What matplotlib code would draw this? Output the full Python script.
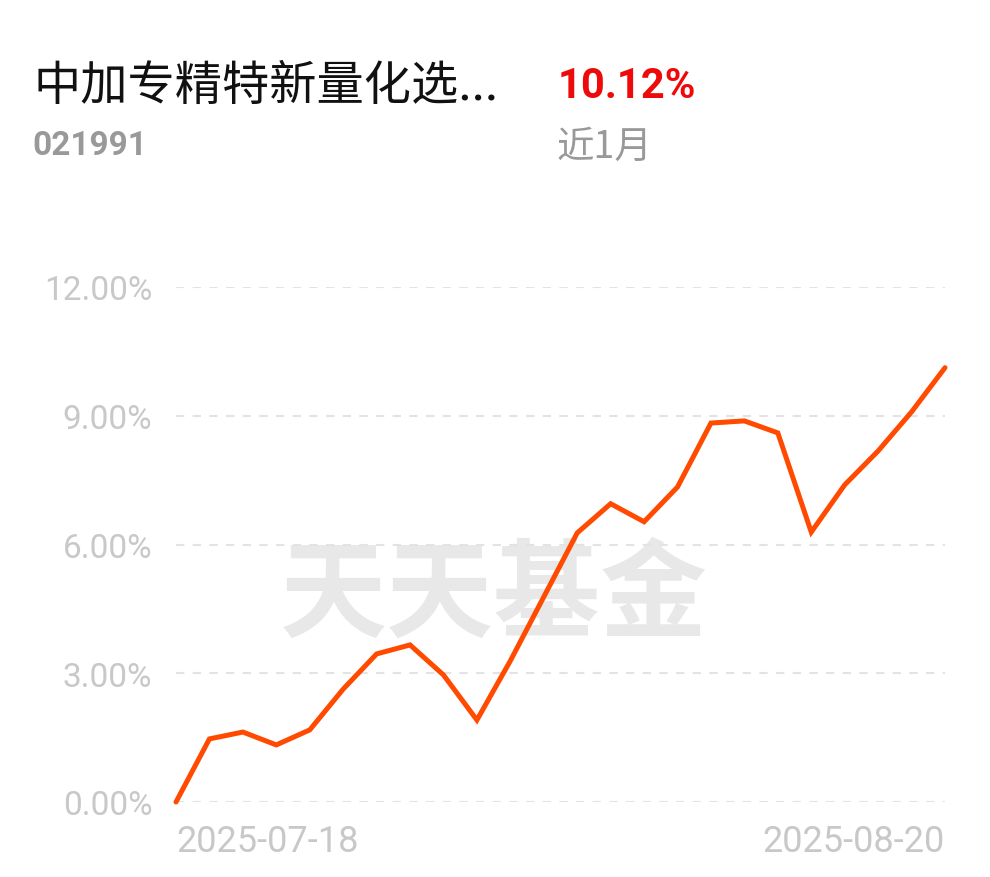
import matplotlib.pyplot as plt

plt.rcParams['font.family'] = ['Noto Sans CJK SC', 'DejaVu Sans']

dates = ['2025-07-18', '2025-07-21', '2025-07-22', '2025-07-23', '2025-07-24',
         '2025-07-25', '2025-07-28', '2025-07-29', '2025-07-30', '2025-07-31',
         '2025-08-01', '2025-08-04', '2025-08-05', '2025-08-06', '2025-08-07',
         '2025-08-08', '2025-08-11', '2025-08-12', '2025-08-13', '2025-08-14',
         '2025-08-15', '2025-08-18', '2025-08-19', '2025-08-20']
returns = [0.00, 1.47, 1.63, 1.33, 1.68, 2.63, 3.45, 3.66, 2.96, 1.91,
           3.29, 4.78, 6.27, 6.95, 6.53, 7.34, 8.83, 8.88, 8.60, 6.29,
           7.39, 8.18, 9.09, 10.12]
yticks = [0, 3, 6, 9, 12]
ytick_labels = ['0.00%', '3.00%', '6.00%', '9.00%', '12.00%']

fund_name = '中加专精特新量化选...'
fund_code = '021991'
period_return = '10.12%'
period_label = '近1月'

fig = plt.figure(figsize=(9.9, 8.78), dpi=100)
ax = fig.add_axes([176 / 990, 1 - 803 / 878, (945 - 176) / 990, (803 - 288) / 878])

x = list(range(len(dates)))

# watermark
ax.text(0.413, 0.40, '天天基金', transform=ax.transAxes, ha='center', va='center',
        fontsize=77, fontweight='bold', color='#e8e8e8', zorder=0)

for v in yticks:
    ax.axhline(v, color='#e3e3e3', lw=1.5, ls=(0, (4, 4)), zorder=1)

ax.plot(x, returns, color='#ff4a00', lw=3.6, solid_joinstyle='miter',
        solid_capstyle='round', clip_on=False, zorder=3)

ax.set_xlim(0, len(dates) - 1)
ax.set_ylim(0, 12)
ax.set_yticks(yticks)
ax.set_yticklabels(ytick_labels, fontsize=24, color='#c8c8c8', family='Roboto')
ax.tick_params(axis='y', length=0, pad=17)
ax.set_xticks([])
for s in ax.spines.values():
    s.set_visible(False)

ax.text(0, -0.04, dates[0], transform=ax.transAxes, ha='left', va='top',
        fontsize=26, color='#c8c8c8', family='Roboto')
ax.text(1, -0.04, dates[-1], transform=ax.transAxes, ha='right', va='top',
        fontsize=26, color='#c8c8c8', family='Roboto')

# header
fig.text(33 / 990, 1 - 87 / 878, fund_name, ha='left', va='center',
         fontsize=34, color='#111111')
fig.text(32 / 990, 1 - 146 / 878, fund_code, ha='left', va='center',
         fontsize=24, fontweight='bold', color='#999999', family='Roboto')
fig.text(558 / 990, 1 - 87 / 878, period_return, ha='left', va='center',
         fontsize=30, fontweight='bold', color='#ee0a0a', family='Roboto')
fig.text(557 / 990, 1 - 147 / 878, period_label, ha='left', va='center',
         fontsize=27, color='#999999')

fig.savefig('out.png', dpi=100)
